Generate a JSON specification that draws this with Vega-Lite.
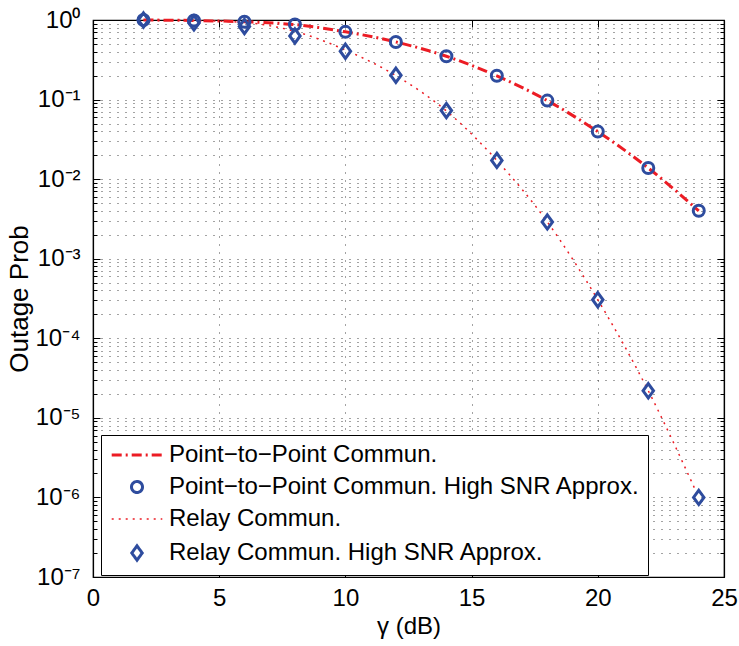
{
  "$schema": "https://vega.github.io/schema/vega-lite/v6.json",
  "width": 631,
  "height": 557,
  "autosize": {"type": "none"},
  "padding": {"left": 93, "top": 20, "right": 15, "bottom": 69},
  "background": "white",
  "config": {
    "view": {"stroke": "black", "strokeWidth": 1.2},
    "font": "Liberation Sans",
    "axis": {
      "labelFont": "Liberation Sans", "labelFontSize": 24, "labelColor": "black",
      "titleFont": "Liberation Sans", "titleFontSize": 24, "titleFontWeight": "normal", "titleColor": "black",
      "domainColor": "black", "domainWidth": 1.2, "tickColor": "black", "tickWidth": 1,
      "gridColor": "#333333", "gridDash": [1, 7], "gridWidth": 1, "gridOpacity": 0.9,
      "labelOverlap": false, "labelFlush": false, "labelBound": false
    }
  },
  "data": {
    "values": [
      {"g": 2, "p": 0.999, "s": "Point−to−Point Commun.", "k": "line"},
      {"g": 4, "p": 0.985, "s": "Point−to−Point Commun.", "k": "line"},
      {"g": 6, "p": 0.95, "s": "Point−to−Point Commun.", "k": "line"},
      {"g": 8, "p": 0.875, "s": "Point−to−Point Commun.", "k": "line"},
      {"g": 10, "p": 0.71, "s": "Point−to−Point Commun.", "k": "line"},
      {"g": 12, "p": 0.53, "s": "Point−to−Point Commun.", "k": "line"},
      {"g": 14, "p": 0.35, "s": "Point−to−Point Commun.", "k": "line"},
      {"g": 16, "p": 0.199, "s": "Point−to−Point Commun.", "k": "line"},
      {"g": 18, "p": 0.097, "s": "Point−to−Point Commun.", "k": "line"},
      {"g": 20, "p": 0.0396, "s": "Point−to−Point Commun.", "k": "line"},
      {"g": 22, "p": 0.0138, "s": "Point−to−Point Commun.", "k": "line"},
      {"g": 24, "p": 0.004, "s": "Point−to−Point Commun.", "k": "line"},
      {"g": 2, "p": 1.0, "s": "Point−to−Point Commun. High SNR Approx.", "k": "approx"},
      {"g": 4, "p": 0.985, "s": "Point−to−Point Commun. High SNR Approx.", "k": "approx"},
      {"g": 6, "p": 0.95, "s": "Point−to−Point Commun. High SNR Approx.", "k": "approx"},
      {"g": 8, "p": 0.877, "s": "Point−to−Point Commun. High SNR Approx.", "k": "approx"},
      {"g": 10, "p": 0.71, "s": "Point−to−Point Commun. High SNR Approx.", "k": "approx"},
      {"g": 12, "p": 0.53, "s": "Point−to−Point Commun. High SNR Approx.", "k": "approx"},
      {"g": 14, "p": 0.35, "s": "Point−to−Point Commun. High SNR Approx.", "k": "approx"},
      {"g": 16, "p": 0.199, "s": "Point−to−Point Commun. High SNR Approx.", "k": "approx"},
      {"g": 18, "p": 0.097, "s": "Point−to−Point Commun. High SNR Approx.", "k": "approx"},
      {"g": 20, "p": 0.0396, "s": "Point−to−Point Commun. High SNR Approx.", "k": "approx"},
      {"g": 22, "p": 0.0138, "s": "Point−to−Point Commun. High SNR Approx.", "k": "approx"},
      {"g": 24, "p": 0.004, "s": "Point−to−Point Commun. High SNR Approx.", "k": "approx"},
      {"g": 2, "p": 0.999, "s": "Relay Commun.", "k": "line"},
      {"g": 4, "p": 0.985, "s": "Relay Commun.", "k": "line"},
      {"g": 6, "p": 0.93, "s": "Relay Commun.", "k": "line"},
      {"g": 8, "p": 0.72, "s": "Relay Commun.", "k": "line"},
      {"g": 10, "p": 0.42, "s": "Relay Commun.", "k": "line"},
      {"g": 12, "p": 0.2, "s": "Relay Commun.", "k": "line"},
      {"g": 14, "p": 0.072, "s": "Relay Commun.", "k": "line"},
      {"g": 16, "p": 0.0172, "s": "Relay Commun.", "k": "line"},
      {"g": 18, "p": 0.0029, "s": "Relay Commun.", "k": "line"},
      {"g": 20, "p": 0.000305, "s": "Relay Commun.", "k": "line"},
      {"g": 22, "p": 0.0000219, "s": "Relay Commun.", "k": "line"},
      {"g": 24, "p": 0.000001, "s": "Relay Commun.", "k": "line"},
      {"g": 2, "p": 1.0, "s": "Relay Commun. High SNR Approx.", "k": "approx"},
      {"g": 4, "p": 0.92, "s": "Relay Commun. High SNR Approx.", "k": "approx"},
      {"g": 6, "p": 0.83, "s": "Relay Commun. High SNR Approx.", "k": "approx"},
      {"g": 8, "p": 0.63, "s": "Relay Commun. High SNR Approx.", "k": "approx"},
      {"g": 10, "p": 0.405, "s": "Relay Commun. High SNR Approx.", "k": "approx"},
      {"g": 12, "p": 0.202, "s": "Relay Commun. High SNR Approx.", "k": "approx"},
      {"g": 14, "p": 0.0727, "s": "Relay Commun. High SNR Approx.", "k": "approx"},
      {"g": 16, "p": 0.0172, "s": "Relay Commun. High SNR Approx.", "k": "approx"},
      {"g": 18, "p": 0.0029, "s": "Relay Commun. High SNR Approx.", "k": "approx"},
      {"g": 20, "p": 0.000305, "s": "Relay Commun. High SNR Approx.", "k": "approx"},
      {"g": 22, "p": 0.0000219, "s": "Relay Commun. High SNR Approx.", "k": "approx"},
      {"g": 24, "p": 0.000001, "s": "Relay Commun. High SNR Approx.", "k": "approx"}
    ]
  },
  "resolve": {"axis": {"x": "independent", "y": "independent"}},
  "layer": [
    {
      "transform": [{"filter": {"field": "k", "equal": "line"}}],
      "mark": {"type": "line", "interpolate": "monotone"},
      "encoding": {
        "x": {"field": "g", "type": "quantitative", "scale": {"domain": [0, 25], "nice": false, "zero": false},
          "axis": {"orient": "bottom", "values": [0, 5, 10, 15, 20, 25], "title": "γ (dB)", "tickSize": -7, "labelPadding": 16, "grid": true, "titlePadding": 4}},
        "y": {"field": "p", "type": "quantitative", "scale": {"type": "log", "domain": [1e-7, 1], "nice": false},
          "axis": {"orient": "left", "values": [1, 0.1, 0.01, 0.001, 0.0001, 0.00001, 0.000001, 0.0000001],
            "labelExpr": "'10' + ['⁰','⁻¹','⁻²','⁻³','⁻⁴','⁻⁵','⁻⁶','⁻⁷'][-round(log(datum.value)/LN10)]",
            "tickSize": -7, "labelPadding": 20, "grid": true, "title": "Outage Prob", "titlePadding": 2, "titleFontSize": 26}},
        "color": {"field": "s", "type": "nominal",
          "scale": {"domain": ["Point−to−Point Commun.", "Point−to−Point Commun. High SNR Approx.", "Relay Commun.", "Relay Commun. High SNR Approx."], "range": ["#ec1c24", "#2e4c9e", "#ec1c24", "#2e4c9e"]},
          "legend": {"orient": "none", "legendX": 8, "legendY": 415, "title": null, "labelFont": "Liberation Sans", "labelFontSize": 24, "labelColor": "black", "fillColor": "white", "strokeColor": "black", "padding": 8, "rowPadding": 8, "symbolOffset": 16, "labelOffset": 20, "symbolSize": 121, "labelLimit": 0, "encode": {"symbols": {"update": {"fill": {"value": "transparent"}}}}}},
        "strokeDash": {"field": "s", "type": "nominal",
          "scale": {"domain": ["Point−to−Point Commun.", "Point−to−Point Commun. High SNR Approx.", "Relay Commun.", "Relay Commun. High SNR Approx."], "range": [[10, 4, 2, 4], [1, 0], [2, 5], [1, 0]]},
          "legend": {"orient": "none", "legendX": 8, "legendY": 415, "title": null, "labelFont": "Liberation Sans", "labelFontSize": 24, "labelColor": "black", "fillColor": "white", "strokeColor": "black", "padding": 8, "rowPadding": 8, "symbolOffset": 16, "labelOffset": 20, "symbolSize": 121, "labelLimit": 0}},
        "strokeWidth": {"field": "s", "type": "nominal",
          "scale": {"type": "ordinal", "domain": ["Point−to−Point Commun.", "Point−to−Point Commun. High SNR Approx.", "Relay Commun.", "Relay Commun. High SNR Approx."], "range": [3, 3, 1.5, 3]},
          "legend": {"orient": "none", "legendX": 8, "legendY": 415, "title": null, "labelFont": "Liberation Sans", "labelFontSize": 24, "labelColor": "black", "fillColor": "white", "strokeColor": "black", "padding": 8, "rowPadding": 8, "symbolOffset": 16, "labelOffset": 20, "symbolSize": 121, "labelLimit": 0}}
      }
    },
    {
      "transform": [{"filter": {"field": "k", "equal": "approx"}}],
      "mark": {"type": "point", "filled": false, "size": 121, "opacity": 1},
      "encoding": {
        "x": {"field": "g", "type": "quantitative", "scale": {"domain": [0, 25], "nice": false, "zero": false},
          "axis": {"orient": "top", "values": [0, 5, 10, 15, 20, 25], "labels": false, "title": null, "tickSize": -7, "grid": false}},
        "y": {"field": "p", "type": "quantitative", "scale": {"type": "log", "domain": [1e-7, 1], "nice": false},
          "axis": {"orient": "right", "values": [1, 0.1, 0.01, 0.001, 0.0001, 0.00001, 0.000001, 0.0000001], "labels": false, "title": null, "tickSize": -7, "grid": false}},
        "color": {"field": "s", "type": "nominal",
          "scale": {"domain": ["Point−to−Point Commun.", "Point−to−Point Commun. High SNR Approx.", "Relay Commun.", "Relay Commun. High SNR Approx."], "range": ["#ec1c24", "#2e4c9e", "#ec1c24", "#2e4c9e"]},
          "legend": {"orient": "none", "legendX": 8, "legendY": 415, "title": null, "labelFont": "Liberation Sans", "labelFontSize": 24, "labelColor": "black", "fillColor": "white", "strokeColor": "black", "padding": 8, "rowPadding": 8, "symbolOffset": 16, "labelOffset": 20, "symbolSize": 121, "labelLimit": 0, "encode": {"symbols": {"update": {"fill": {"value": "transparent"}}}}}},
        "shape": {"field": "s", "type": "nominal",
          "scale": {"domain": ["Point−to−Point Commun.", "Point−to−Point Commun. High SNR Approx.", "Relay Commun.", "Relay Commun. High SNR Approx."], "range": ["M-4.6,0H4.6", "circle", "M-4.6,0H4.6", "M0,-1.3L0.95,0L0,1.3L-0.95,0Z"]},
          "legend": {"orient": "none", "legendX": 8, "legendY": 415, "title": null, "labelFont": "Liberation Sans", "labelFontSize": 24, "labelColor": "black", "fillColor": "white", "strokeColor": "black", "padding": 8, "rowPadding": 8, "symbolOffset": 16, "labelOffset": 20, "symbolSize": 121, "labelLimit": 0}},
        "strokeWidth": {"field": "s", "type": "nominal",
          "scale": {"type": "ordinal", "domain": ["Point−to−Point Commun.", "Point−to−Point Commun. High SNR Approx.", "Relay Commun.", "Relay Commun. High SNR Approx."], "range": [3, 3, 1.5, 3]},
          "legend": {"orient": "none", "legendX": 8, "legendY": 415, "title": null, "labelFont": "Liberation Sans", "labelFontSize": 24, "labelColor": "black", "fillColor": "white", "strokeColor": "black", "padding": 8, "rowPadding": 8, "symbolOffset": 16, "labelOffset": 20, "symbolSize": 121, "labelLimit": 0}}
      }
    },
    {
      "transform": [{"filter": {"field": "k", "equal": "approx"}}],
      "mark": {"type": "point", "opacity": 0},
      "encoding": {
        "x": {"field": "g", "type": "quantitative", "scale": {"domain": [0, 25], "nice": false, "zero": false}, "axis": null},
        "y": {"field": "p", "type": "quantitative", "scale": {"type": "log", "domain": [1e-7, 1], "nice": false},
          "axis": {"orient": "left", "values": [2e-7, 3e-7, 4e-7, 5e-7, 6e-7, 7e-7, 8e-7, 9e-7, 2e-6, 3e-6, 4e-6, 5e-6, 6e-6, 7e-6, 8e-6, 9e-6, 2e-5, 3e-5, 4e-5, 5e-5, 6e-5, 7e-5, 8e-5, 9e-5, 2e-4, 3e-4, 4e-4, 5e-4, 6e-4, 7e-4, 8e-4, 9e-4, 2e-3, 3e-3, 4e-3, 5e-3, 6e-3, 7e-3, 8e-3, 9e-3, 0.02, 0.03, 0.04, 0.05, 0.06, 0.07, 0.08, 0.09, 0.2, 0.3, 0.4, 0.5, 0.6, 0.7, 0.8, 0.9],
            "labels": false, "title": null, "tickSize": -4, "grid": true, "domain": false}}
      }
    },
    {
      "transform": [{"filter": {"field": "k", "equal": "approx"}}],
      "mark": {"type": "point", "opacity": 0},
      "encoding": {
        "x": {"field": "g", "type": "quantitative", "scale": {"domain": [0, 25], "nice": false, "zero": false}, "axis": null},
        "y": {"field": "p", "type": "quantitative", "scale": {"type": "log", "domain": [1e-7, 1], "nice": false},
          "axis": {"orient": "right", "values": [2e-7, 3e-7, 4e-7, 5e-7, 6e-7, 7e-7, 8e-7, 9e-7, 2e-6, 3e-6, 4e-6, 5e-6, 6e-6, 7e-6, 8e-6, 9e-6, 2e-5, 3e-5, 4e-5, 5e-5, 6e-5, 7e-5, 8e-5, 9e-5, 2e-4, 3e-4, 4e-4, 5e-4, 6e-4, 7e-4, 8e-4, 9e-4, 2e-3, 3e-3, 4e-3, 5e-3, 6e-3, 7e-3, 8e-3, 9e-3, 0.02, 0.03, 0.04, 0.05, 0.06, 0.07, 0.08, 0.09, 0.2, 0.3, 0.4, 0.5, 0.6, 0.7, 0.8, 0.9],
            "labels": false, "title": null, "tickSize": -4, "grid": false, "domain": false}}
      }
    }
  ]
}
